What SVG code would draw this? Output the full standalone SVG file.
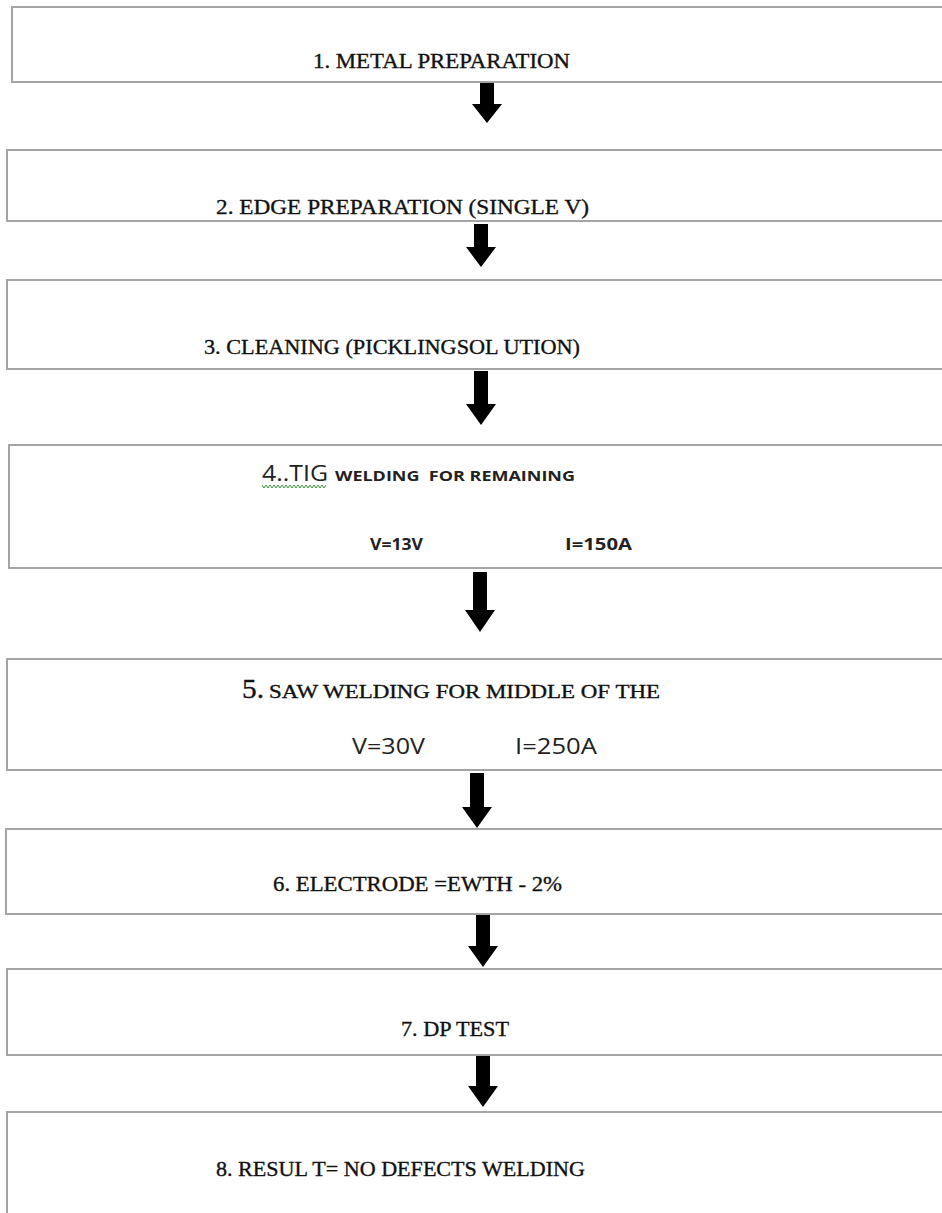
<svg xmlns="http://www.w3.org/2000/svg" width="942" height="1213" viewBox="0 0 942 1213">
<style>
.box{fill:#fff;stroke:#a4a4a4;stroke-width:2}
.arr{fill:#000}
.serif{font-family:"Liberation Serif","Times New Roman",serif;fill:#111;stroke:#111;stroke-width:0.35}
.sans{font-family:"Open Sans","Liberation Sans",sans-serif;fill:#222}
</style>
<rect width="942" height="1213" fill="#fff"/>
<g id="connectors">
<path class="arr" d="M480,83 H494 V104 H502 L487,123 L472,104 H480 Z"/>
<path class="arr" d="M474,224 H488 V247 H496 L481,267 L466,247 H474 Z"/>
<path class="arr" d="M474,371 H488 V404 H496 L481,425 L466,404 H474 Z"/>
<path class="arr" d="M473,572 H487 V610 H495 L480,632 L465,610 H473 Z"/>
<path class="arr" d="M470,773 H484 V807 H492 L477,828 L462,807 H470 Z"/>
<path class="arr" d="M476,915 H490 V946 H498 L483,967 L468,946 H476 Z"/>
<path class="arr" d="M476,1056 H490 V1086 H498 L483,1107 L468,1086 H476 Z"/>
</g>
<g id="node1">
<rect class="box" x="12" y="7" width="1000" height="75"/>
<text class="serif" x="313" y="68" font-size="22" textLength="257" lengthAdjust="spacingAndGlyphs">1. METAL PREPARATION</text>
</g>
<g id="node2">
<rect class="box" x="7" y="150" width="1000" height="71"/>
<text class="serif" x="216" y="214" font-size="22" textLength="373" lengthAdjust="spacingAndGlyphs">2. EDGE PREPARATION (SINGLE V)</text>
</g>
<g id="node3">
<rect class="box" x="7" y="280" width="1000" height="89"/>
<text class="serif" x="204" y="354" font-size="22" textLength="376" lengthAdjust="spacingAndGlyphs">3. CLEANING (PICKLINGSOL UTION)</text>
</g>
<g id="node4">
<rect class="box" x="9" y="445" width="1000" height="123"/>
<text class="sans" x="262" y="481" font-size="21" textLength="66" lengthAdjust="spacingAndGlyphs">4..TIG</text>
<text class="sans" x="335" y="481" font-size="15" font-weight="bold" textLength="240" lengthAdjust="spacingAndGlyphs" xml:space="preserve">WELDING  FOR REMAINING</text>
<path d="M262,485 l2,3 l2,-3 l2,3 l2,-3 l2,3 l2,-3 l2,3 l2,-3 l2,3 l2,-3 l2,3 l2,-3 l2,3 l2,-3 l2,3 l2,-3 l2,3 l2,-3 l2,3 l2,-3 l2,3 l2,-3 l2,3 l2,-3 l2,3 l2,-3 l2,3 l2,-3 l2,3 l2,-3 l2,3 l2,-3" fill="none" stroke="#3c9a3c" stroke-width="1"/>
<text class="sans" x="370" y="550" font-size="16" font-weight="bold" textLength="53" lengthAdjust="spacingAndGlyphs">V=13V</text>
<text class="sans" x="565" y="550" font-size="16" font-weight="bold" textLength="67" lengthAdjust="spacingAndGlyphs">I=150A</text>
</g>
<g id="node5">
<rect class="box" x="7" y="659" width="1000" height="111"/>
<text class="serif" x="242" y="698" font-size="27" textLength="22" lengthAdjust="spacingAndGlyphs">5.</text>
<text class="serif" x="269" y="698" font-size="19" textLength="391" lengthAdjust="spacingAndGlyphs">SAW WELDING FOR MIDDLE OF THE</text>
<text class="sans" x="352" y="754" font-size="21" textLength="73" lengthAdjust="spacingAndGlyphs">V=30V</text>
<text class="sans" x="515" y="754" font-size="21" textLength="82" lengthAdjust="spacingAndGlyphs">I=250A</text>
</g>
<g id="node6">
<rect class="box" x="6" y="829" width="1000" height="85"/>
<text class="serif" x="273" y="891" font-size="22" textLength="289" lengthAdjust="spacingAndGlyphs">6. ELECTRODE =EWTH - 2%</text>
</g>
<g id="node7">
<rect class="box" x="7" y="969" width="1000" height="86"/>
<text class="serif" x="401" y="1036" font-size="22" textLength="108" lengthAdjust="spacingAndGlyphs">7. DP TEST</text>
</g>
<g id="node8">
<rect class="box" x="7" y="1112" width="1000" height="150"/>
<text class="serif" x="216" y="1176" font-size="22" textLength="369" lengthAdjust="spacingAndGlyphs">8. RESUL T= NO DEFECTS WELDING</text>
</g>
</svg>
